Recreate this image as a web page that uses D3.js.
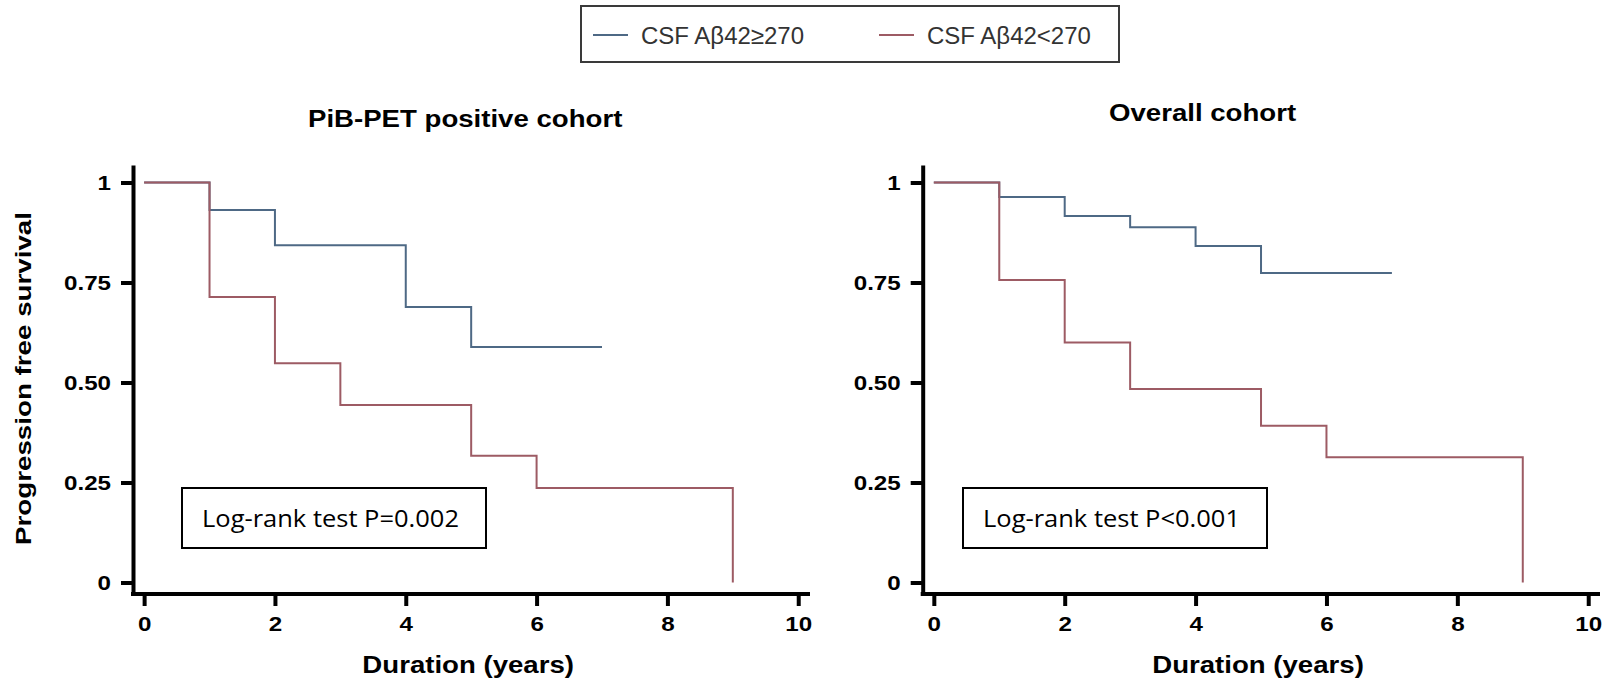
<!DOCTYPE html>
<html>
<head>
<meta charset="utf-8">
<script src="https://cdn.jsdelivr.net/npm/d3@7"></script>
<style>
  body { margin: 0; background: #fff; }
  text { font-family: "Liberation Sans", Arial, sans-serif; }
</style>
</head>
<body>
<div id="chart"></div>
<script>
// Kaplan-Meier steps.
var pibHighTime = [0, 1, 2, 4, 5, 7];
var pibHighSurv = [1, 0.931, 0.843, 0.689, 0.589, 0.589];
var pibLowTime = [0, 1, 2, 3, 5, 6, 9];
var pibLowSurv = [1, 0.714, 0.548, 0.444, 0.317, 0.236, 0];

var allHighTime = [0, 1, 2, 3, 4, 5, 7];
var allHighSurv = [1, 0.964, 0.916, 0.888, 0.841, 0.774, 0.774];
var allLowTime = [0, 1, 2, 3, 5, 6, 9];
var allLowSurv = [1, 0.756, 0.6, 0.484, 0.392, 0.313, 0];

var seriesNames = ['CSF A\u03b242\u2265270', 'CSF A\u03b242<270'];
var panelTitles = ['PiB-PET positive cohort', 'Overall cohort'];
var pValues = ['Log-rank test P=0.002', 'Log-rank test P<0.001'];
var xTicks = [0, 2, 4, 6, 8, 10];
var yTicks = [0, 0.25, 0.5, 0.75, 1];
var yTickLabels = ['0', '0.25', '0.50', '0.75', '1'];

var blue = '#4e6985',
  red = '#9d5b64';

// the original figure is a bit wider than tall, text included
var SX = 1.15;

var svg = d3.select('#chart')
  .append('svg')
  .attr('width', 1606)
  .attr('height', 686);

drawLegend();

drawPanel({
  left: 133, right: 810, title: panelTitles[0], titleX: 308, titleY: 127,
  high: zip(pibHighTime, pibHighSurv), low: zip(pibLowTime, pibLowSurv),
  note: pValues[0], boxX: 182, yTitle: 'Progression free survival'
});
drawPanel({
  left: 922.7, right: 1600, title: panelTitles[1], titleX: 1109, titleY: 121,
  high: zip(allHighTime, allHighSurv), low: zip(allLowTime, allLowSurv),
  note: pValues[1], boxX: 963
});

function zip(t, s) {
  return t.map(function (d, i) { return [d, s[i]]; });
}

// widen text around its own x position
function stretch(sel) {
  sel.each(function () {
    var t = d3.select(this);
    var x = +t.attr('x') || 0;
    t.attr('x', x / SX).attr('transform', 'scale(' + SX + ',1)');
  });
}

function drawLegend() {
  var g = svg.append('g');
  g.append('rect')
    .attr('x', 581).attr('y', 6)
    .attr('width', 538).attr('height', 56)
    .style('fill', '#fff')
    .style('stroke', '#3a3a3a')
    .style('stroke-width', 2);

  var items = [
    { name: seriesNames[0], color: blue, x: 593 },
    { name: seriesNames[1], color: red, x: 879 }
  ];
  items.forEach(function (it) {
    g.append('line')
      .attr('x1', it.x).attr('x2', it.x + 35)
      .attr('y1', 35).attr('y2', 35)
      .style('stroke', it.color)
      .style('stroke-width', 2);
    g.append('text')
      .attr('x', it.x + 48).attr('y', 44)
      .style('font-size', '24px')
      .style('fill', '#333')
      .text(it.name);
  });
}

function drawPanel(p) {
  var top = 165, bottom = 594;

  // padded domains so the axis lines stick out past 0 and 10 / 0 and 1
  var x = d3.scaleLinear().domain([-0.17, 10.18]).range([p.left, p.right]);
  var y = d3.scaleLinear().domain([-0.0288, 1.0438]).range([bottom, top]);

  var g = svg.append('g');

  var xAxis = d3.axisBottom(x)
    .tickValues(xTicks)
    .tickFormat(d3.format('d'))
    .tickSize(12)
    .tickSizeOuter(0)
    .tickPadding(10);
  var yAxis = d3.axisLeft(y)
    .tickValues(yTicks)
    .tickFormat(function (d, i) { return yTickLabels[i]; })
    .tickSize(12)
    .tickSizeOuter(0)
    .tickPadding(10);

  var gx = g.append('g')
    .attr('transform', 'translate(0,' + bottom + ')')
    .call(xAxis);
  var gy = g.append('g')
    .attr('transform', 'translate(' + p.left + ',0)')
    .call(yAxis);

  [gx, gy].forEach(function (a) {
    a.selectAll('path, line')
      .style('stroke', '#000')
      .style('stroke-width', 4);
    a.selectAll('text')
      .style('font-size', '21px')
      .style('font-weight', 'bold')
      .style('font-family', '"Liberation Sans", Arial, sans-serif')
      .style('fill', '#000')
      .call(stretch);
  });
  gx.select('.domain').attr('d', 'M' + (p.left - 2) + ',0H' + p.right);

  var line = d3.line()
    .x(function (d) { return x(d[0]); })
    .y(function (d) { return y(d[1]); })
    .curve(d3.curveStepAfter);

  g.append('path')
    .datum(p.high)
    .attr('d', line)
    .style('fill', 'none')
    .style('stroke', blue)
    .style('stroke-width', 2);
  g.append('path')
    .datum(p.low)
    .attr('d', line)
    .style('fill', 'none')
    .style('stroke', red)
    .style('stroke-width', 2);

  // title
  g.append('text')
    .attr('x', p.titleX).attr('y', p.titleY)
    .style('font-size', '24px')
    .style('font-weight', 'bold')
    .text(p.title)
    .call(stretch);

  // x title
  g.append('text')
    .attr('x', x(5) - 3).attr('y', 673)
    .attr('text-anchor', 'middle')
    .style('font-size', '24px')
    .style('font-weight', 'bold')
    .text('Duration (years)')
    .call(stretch);

  if (p.yTitle) {
    g.append('text')
      .attr('transform', 'translate(31,' + (y(0.5) - 4) + ') rotate(-90)')
      .attr('text-anchor', 'middle')
      .attr('textLength', 333)
      .attr('lengthAdjust', 'spacingAndGlyphs')
      .style('font-size', '22px')
      .style('font-weight', 'bold')
      .text(p.yTitle);
  }

  // log-rank box
  var by = 488;
  g.append('rect')
    .attr('x', p.boxX).attr('y', by)
    .attr('width', 304).attr('height', 60)
    .style('fill', '#fff')
    .style('stroke', '#000')
    .style('stroke-width', 2);
  g.append('text')
    .attr('x', p.boxX + 20).attr('y', by + 39)
    .attr('textLength', 257)
    .attr('lengthAdjust', 'spacingAndGlyphs')
    .style('font-family', '"Open Sans", sans-serif')
    .style('font-size', '24px')
    .style('fill', '#000')
    .text(p.note);
}
</script>
</body>
</html>
